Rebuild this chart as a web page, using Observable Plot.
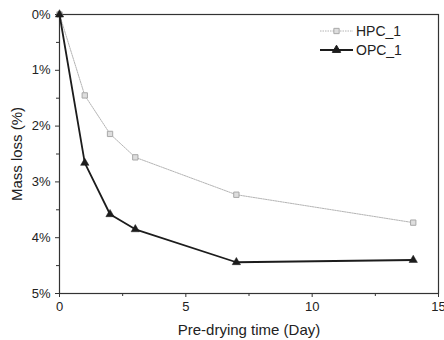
<!DOCTYPE html>
<html><head><meta charset="utf-8">
<script src="https://cdn.jsdelivr.net/npm/d3@7"></script>
<script src="https://cdn.jsdelivr.net/npm/@observablehq/plot@0.6"></script>
<style>
body{margin:0;background:#fff;font-family:"Liberation Sans",Arial,sans-serif;}
#chart{position:relative;width:444px;height:340px;}
#legend{position:absolute;left:0;top:0;pointer-events:none;}
</style></head><body><div id="chart"></div>
<script>
// Data
const days = [0, 1, 2, 3, 7, 14];
const hpcLoss = [0, 1.45, 2.14, 2.56, 3.23, 3.73];
const opcLoss = [0, 2.66, 3.58, 3.85, 4.44, 4.40];
const seriesNames = ["HPC_1", "OPC_1"];
const xTicks = [0, 5, 10, 15];
const xMinorTicks = [2.5, 7.5, 12.5];
const yTicks = [0, 1, 2, 3, 4, 5];
const yMinorTicks = [0.5, 1.5, 2.5, 3.5, 4.5];
const xLabel = "Pre-drying time (Day)";
const yLabel = "Mass loss (%)";

const hpc = days.map((d, i) => ({day: d, loss: hpcLoss[i], series: seriesNames[0]}));
const opc = days.map((d, i) => ({day: d, loss: opcLoss[i], series: seriesNames[1]}));

const chart = Plot.plot({
  width: 444,
  height: 340,
  marginLeft: 59,
  marginRight: 6,
  marginTop: 14,
  marginBottom: 47,
  style: {fontFamily: "'Liberation Sans', Arial, sans-serif", fontSize: "13px", color: "#222", background: "#fff"},
  x: {domain: [0, 15]},
  y: {domain: [0, 5], reverse: true},
  marks: [
    Plot.frame({stroke: "#333", strokeWidth: 1.2}),
    Plot.axisX({ticks: xTicks, tickSize: 4, tickPadding: 4, stroke: "#333", tickFormat: d => d, label: null}),
    Plot.axisX({ticks: xMinorTicks, tickSize: 3, tickFormat: () => "", label: null, stroke: "#333"}),
    Plot.axisX({ticks: [], tickSize: 0, label: xLabel, labelAnchor: "center", labelOffset: 41, labelArrow: "none", fontSize: 15}),
    Plot.axisY({ticks: yTicks, tickSize: 4, tickPadding: 5, stroke: "#333", tickFormat: d => d + "%", label: null}),
    Plot.axisY({ticks: yMinorTicks, tickSize: 3, tickFormat: () => "", label: null, stroke: "#333"}),
    Plot.axisY({ticks: [], tickSize: 0, label: yLabel, labelAnchor: "center", labelOffset: 48, labelArrow: "none", fontSize: 15, dy: 9}),
    Plot.line(hpc, {x: "day", y: "loss", stroke: "#b4b4b4", strokeWidth: 1, strokeDasharray: "1.5,1"}),
    Plot.dot(hpc, {x: "day", y: "loss", symbol: "square", r: 3, fill: "#dedede", stroke: "#a8a8a8", strokeWidth: 1}),
    Plot.line(opc, {x: "day", y: "loss", stroke: "#1c1c1c", strokeWidth: 1.8}),
    Plot.dot(opc, {x: "day", y: "loss", symbol: "triangle", r: 3.1, fill: "#1c1c1c", stroke: "#1c1c1c", strokeWidth: 0.5})
  ]
});
const container = document.getElementById("chart");
container.appendChild(chart);

// Legend overlay
const legend = d3.select(container).append("svg").attr("id", "legend").attr("width", 444).attr("height", 340);
const legendItems = [
  {name: seriesNames[0], y: 31, stroke: "#b4b4b4", width: 1, dash: "1.5,1", sym: d3.symbolSquare, size: 28, fill: "#dedede", symStroke: "#a8a8a8"},
  {name: seriesNames[1], y: 50, stroke: "#1c1c1c", width: 1.8, dash: null, sym: d3.symbolTriangle, size: 30, fill: "#1c1c1c", symStroke: "#1c1c1c"}
];
legendItems.forEach(it => {
  legend.append("line").attr("x1", 320).attr("x2", 353).attr("y1", it.y).attr("y2", it.y)
    .attr("stroke", it.stroke).attr("stroke-width", it.width).attr("stroke-dasharray", it.dash);
  legend.append("path").attr("d", d3.symbol(it.sym, it.size)()).attr("transform", `translate(336.5,${it.y})`)
    .attr("fill", it.fill).attr("stroke", it.symStroke);
  legend.append("text").attr("x", 356).attr("y", it.y).attr("dy", "0.36em")
    .attr("font-family", "'Liberation Sans', Arial, sans-serif").attr("font-size", 14).attr("fill", "#222")
    .text(it.name);
});
</script></body></html>
